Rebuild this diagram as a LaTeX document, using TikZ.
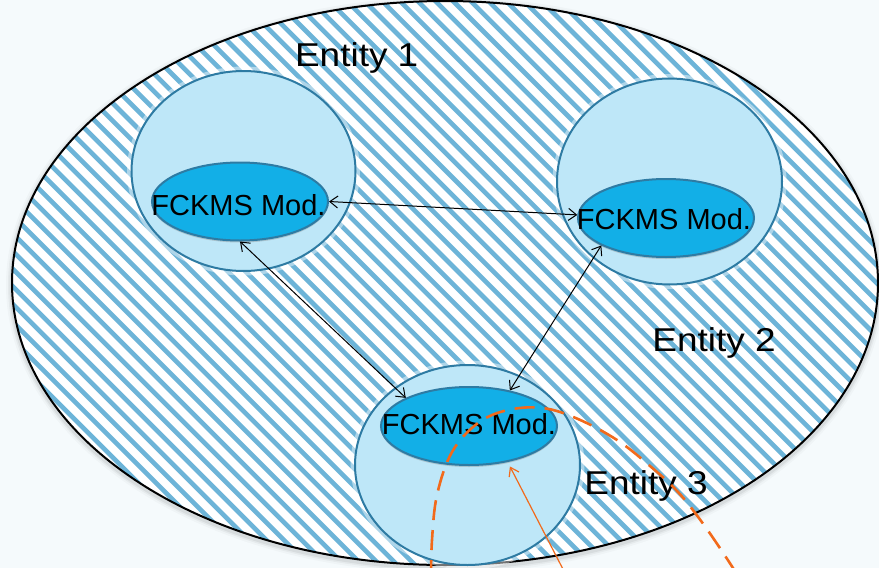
\documentclass[tikz,border=0pt]{standalone}
\usepackage{fontspec}
\setmainfont{Liberation Sans}
\usetikzlibrary{arrows.meta,shapes.geometric,shadows}
\definecolor{bgc}{HTML}{F5FAFC}
\definecolor{stripec}{HTML}{6DB4D8}
\definecolor{entfill}{HTML}{BEE7F8}
\definecolor{entline}{HTML}{2E7BA3}
\definecolor{modfill}{HTML}{12AFE7}
\definecolor{orangec}{HTML}{F26A1B}
\begin{document}
\begin{tikzpicture}[x=1pt,y=-1pt,
  entity/.style={ellipse, draw=entline, line width=2pt, fill=entfill, inner sep=0pt,
    preaction={draw=white, line width=9pt, opacity=0.45}},
  module/.style={ellipse, draw=entline, line width=2pt, fill=modfill, inner sep=0pt,
    minimum width=176pt, minimum height=78pt,
    drop shadow={shadow xshift=0pt, shadow yshift=-2pt, opacity=0.35}},
  modlabel/.style={font=\fontsize{29}{29}\selectfont, anchor=base, inner sep=0pt},
  entlabel/.style={font=\fontsize{33}{33}\selectfont, anchor=base, inner sep=0pt, xscale=1.12},
  link/.style={black, line width=1pt,
    {Straight Barb[length=8pt,width=12pt]}-{Straight Barb[length=8pt,width=12pt]}},
  access/.style={orangec, line width=1.2pt, -{Straight Barb[length=8pt,width=11pt]}},
  boundary/.style={orangec, line width=2.6pt, dash pattern=on 20pt off 10pt},
]
% canvas
\fill[bgc] (0,0) rectangle (879,568);
\useasboundingbox (0,0) rectangle (879,568);

% soft shadow round the federation
\foreach \w/\o in {12/0.025,8/0.04,5/0.06}
  \draw[black, opacity=\o, line width=\w pt] (445,285) ellipse [x radius=433, y radius=282];

% hatched federation area
\fill[white] (445,283) ellipse [x radius=433, y radius=282];
\begin{scope}
  \clip (445,283) ellipse [x radius=433, y radius=282];
  \foreach \c in {-620,-602.3,...,900}
    \draw[stripec, line width=4.6pt] (\c,-10) -- ++(620,620);
\end{scope}
\draw[black, line width=2pt] (445,283) ellipse [x radius=433, y radius=282];

% entities
\node[entity, minimum width=224pt, minimum height=200pt] (e1) at (243.5,171) {};
\node[entity, minimum width=225pt, minimum height=206pt] (e2) at (669.5,181.5) {};
\node[entity, minimum width=225pt, minimum height=200pt] (e3) at (467.5,465) {};

% key management modules
\node[module] (m1) at (240,201.5) {};
\node[module] (m2) at (666,218) {};
\node[module] (m3) at (469,426) {};
\node[modlabel] (l1) at (238.5,215) {FCKMS Mod.};
\node[modlabel] (l2) at (664,229.5) {FCKMS Mod.};
\node[modlabel] (l3) at (469,434) {FCKMS Mod.};

% entity names
\node[entlabel] (t1) at (356.7,66) {Entity 1};
\node[entlabel] (t2) at (714,351) {Entity 2};
\node[entlabel] (t3) at (646,494) {Entity 3};

% module links
\draw[link] (m1.east) -- (m2.178);
\draw[link] (m1.south) -- (m3.156);
\draw[link] (m2.203) -- (m3.41);

% outside access and its boundary
\coordinate (src) at (566,575);
\draw[access, shorten >=5pt] (src) -- (m3.-43);
\draw[boundary] plot[smooth, tension=0.6] coordinates
  {(431,580) (432,540) (437,495) (452,452) (478,423) (508,410) (543,408)
   (578,419) (617,440) (650,466) (678,492) (704,525) (733,568) (739,580)};
\end{tikzpicture}
\end{document}
